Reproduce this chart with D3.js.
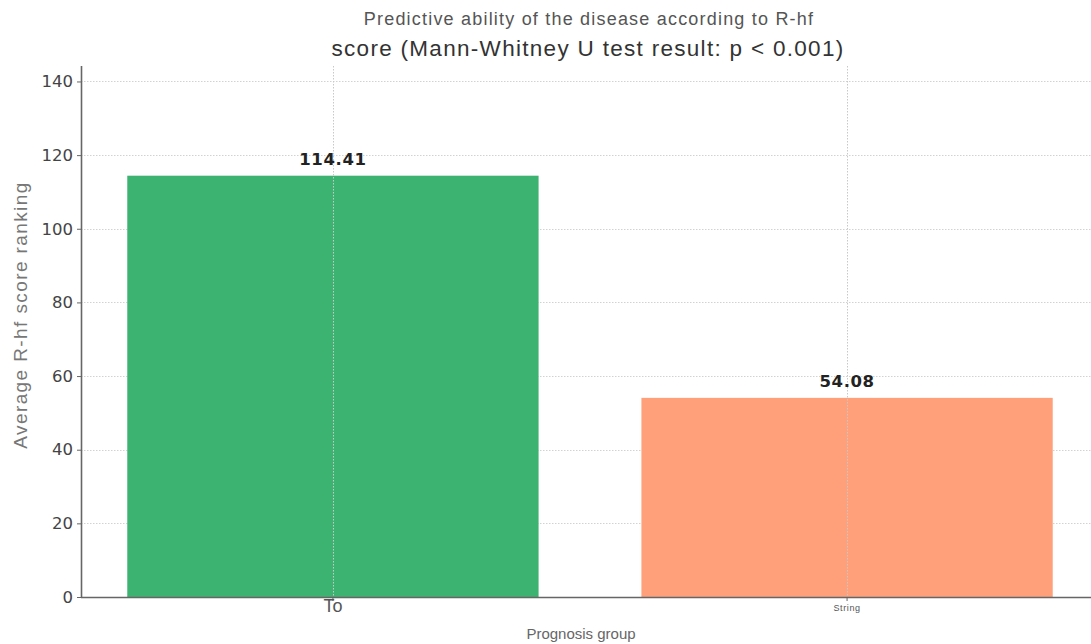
<!DOCTYPE html>
<html>
<head>
<meta charset="utf-8">
<script src="https://cdn.jsdelivr.net/npm/d3@7"></script>
<style>
  html, body { margin: 0; padding: 0; background: #fff; }
  svg { display: block; }
</style>
</head>
<body>
<div id="chart"></div>
<script>
// Mean rank of R-hf score per prognosis group
const categories = ["To", "String"];
const values = [114.41, 54.08];
const valueLabels = ["114.41", "54.08"];
const barColors = ["#3cb371", "#ffa07a"];
const yTicks = [0, 20, 40, 60, 80, 100, 120, 140];
const yMax = 144.2;

const width = 1091, height = 644;
const plot = { left: 81, right: 1099, top: 66, bottom: 597 };

const svg = d3.select("#chart").append("svg")
  .attr("width", width).attr("height", height);

const x = d3.scaleBand()
  .domain(categories)
  .range([plot.left, plot.right])
  .paddingInner(0.2)
  .paddingOuter(0.09);

const y = d3.scaleLinear()
  .domain([0, yMax])
  .range([plot.bottom, plot.top]);

// Horizontal gridlines (dotted)
svg.append("g").attr("stroke", "#d2d2d2").attr("stroke-width", 1)
  .attr("stroke-dasharray", "1.5,1.5")
  .selectAll("line").data(yTicks.slice(1)).join("line")
  .attr("x1", plot.left).attr("x2", width)
  .attr("y1", d => Math.round(y(d)) + 0.5).attr("y2", d => Math.round(y(d)) + 0.5);

// Bars
svg.append("g").selectAll("rect").data(categories).join("rect")
  .attr("x", d => x(d))
  .attr("width", x.bandwidth())
  .attr("y", (d, i) => y(values[i]))
  .attr("height", (d, i) => y(0) - y(values[i]))
  .attr("fill", (d, i) => barColors[i]);

// Vertical gridlines at category centres, drawn over the bars
svg.append("g").attr("stroke", "#c8c8c8").attr("stroke-width", 1)
  .attr("stroke-dasharray", "1.5,1.5")
  .selectAll("line").data(categories).join("line")
  .attr("x1", d => Math.round(x(d) + x.bandwidth() / 2) + 0.5)
  .attr("x2", d => Math.round(x(d) + x.bandwidth() / 2) + 0.5)
  .attr("y1", plot.top).attr("y2", plot.bottom);

// Value labels
svg.append("g").selectAll("text").data(categories).join("text")
  .attr("x", d => x(d) + x.bandwidth() / 2)
  .attr("y", (d, i) => y(values[i]) - 11)
  .attr("text-anchor", "middle")
  .attr("font-family", "DejaVu Sans, sans-serif")
  .attr("font-weight", "bold")
  .attr("font-size", 16.5)
  .attr("letter-spacing", 0.6)
  .attr("fill", "#222")
  .text((d, i) => valueLabels[i]);

// Y axis
const yAxis = svg.append("g")
  .attr("transform", `translate(${plot.left},0)`)
  .call(d3.axisLeft(y).tickValues(yTicks).tickSize(4).tickPadding(4));
yAxis.select(".domain").attr("stroke", "#666").attr("stroke-width", 1.6)
  .attr("d", `M0.5,${plot.top}V${plot.bottom}`);
yAxis.selectAll(".tick line").attr("stroke", "#666");
yAxis.selectAll(".tick text")
  .attr("font-family", "DejaVu Sans, sans-serif")
  .attr("font-size", 16.5)
  .attr("fill", "#444");

// X axis
const xAxis = svg.append("g")
  .attr("transform", `translate(0,${plot.bottom})`)
  .call(d3.axisBottom(x).tickSize(4).tickPadding(3));
xAxis.select(".domain").attr("stroke", "#666").attr("stroke-width", 1.6)
  .attr("d", `M${plot.left},0.5H${width}`);
xAxis.selectAll(".tick line").attr("stroke", "#666");
xAxis.selectAll(".tick text")
  .attr("font-family", "Liberation Sans, Arial, sans-serif")
  .attr("fill", "#555")
  .attr("font-size", (d, i) => i === 0 ? 18 : 9)
  .attr("letter-spacing", (d, i) => i === 0 ? 0 : 0.6)
  .attr("dy", (d, i) => i === 0 ? "0.45em" : "0.8em");

// Axis titles
svg.append("text")
  .attr("x", 581).attr("y", 639)
  .attr("text-anchor", "middle")
  .attr("font-family", "Liberation Sans, Arial, sans-serif")
  .attr("font-size", 15)
  .attr("fill", "#666")
  .text("Prognosis group");

svg.append("text")
  .attr("transform", "translate(27,315) rotate(-90)")
  .attr("text-anchor", "middle")
  .attr("font-family", "Liberation Sans, Arial, sans-serif")
  .attr("font-size", 19)
  .attr("letter-spacing", 1.4)
  .attr("fill", "#777")
  .text("Average R-hf score ranking");

// Title
svg.append("text")
  .attr("x", 589).attr("y", 25)
  .attr("text-anchor", "middle")
  .attr("font-family", "Liberation Sans, Arial, sans-serif")
  .attr("font-size", 18)
  .attr("letter-spacing", 1.2)
  .attr("fill", "#555")
  .text("Predictive ability of the disease according to R-hf");
svg.append("text")
  .attr("x", 588).attr("y", 56)
  .attr("text-anchor", "middle")
  .attr("font-family", "Liberation Sans, Arial, sans-serif")
  .attr("font-size", 22.5)
  .attr("letter-spacing", 1.3)
  .attr("fill", "#333")
  .text("score (Mann-Whitney U test result: p < 0.001)");
</script>
</body>
</html>
